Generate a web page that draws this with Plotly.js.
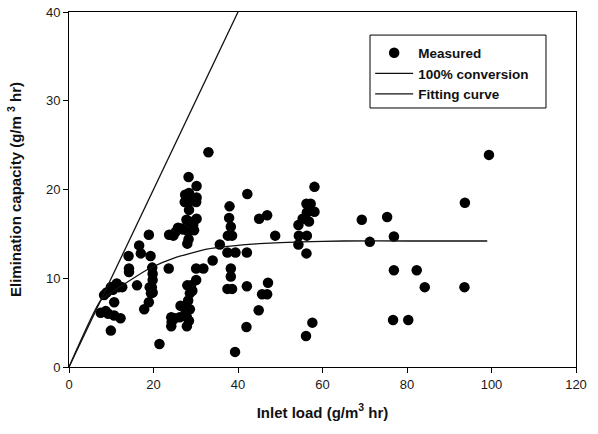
<!DOCTYPE html>
<html>
<head>
<meta charset="utf-8">
<script src="https://cdn.plot.ly/plotly-3.0.1.min.js"></script>
<style>html,body{margin:0;padding:0;background:#fff;}#chart{width:598px;height:434px;}</style>
</head>
<body>
<div id="chart"></div>
<script>
// Measured points: inlet load (x) and elimination capacity (y)
const measuredX = [
  7.5, 8.7, 9.3, 10.7, 12.2, 9.9, 10.7, 8.3, 8.9, 9.9, 11.0, 11.8, 12.6, 10.4, 11.3,
  14.1, 14.2, 14.2, 16.1, 16.6, 17.0, 17.8, 18.9, 19.3, 19.7, 19.8, 19.8, 19.1, 19.6, 19.4, 19.8, 18.9, 21.4,
  23.6, 23.7, 24.7, 24.2, 24.3, 24.2, 25.0, 25.2, 25.8, 26.2, 26.4, 26.6, 27.0, 27.4, 27.6, 27.6, 27.9, 27.9,
  28.2, 28.6, 28.0, 28.9, 28.0, 28.3, 28.2, 29.6, 27.8, 28.5, 28.4, 28.6, 27.5, 28.4, 28.3, 30.2, 30.2, 30.1,
  30.2, 29.4, 30.1, 31.8, 30.1, 29.2, 28.6, 28.4,
  33.0, 34.0, 35.7, 38.0, 37.9, 38.3, 37.6, 38.6, 37.5, 39.4, 38.3, 38.3, 37.5, 38.6, 39.3,
  42.2, 42.1, 42.1, 42.0, 45.0, 46.9, 44.9, 45.7, 46.9, 47.1, 48.8,
  54.3, 55.3, 56.2, 57.2, 56.8, 56.3, 58.1, 58.1, 54.4, 56.3, 54.3, 56.2, 57.6, 56.1,
  69.3, 75.3, 71.2, 76.9, 76.9, 82.3, 84.2, 93.6, 93.7, 99.4, 76.7, 80.3
];
const measuredY = [
  6.1, 6.3, 6.0, 5.8, 5.5, 4.1, 7.3, 8.1, 8.4, 9.0, 9.2, 9.0, 9.0, 8.7, 9.4,
  12.5, 11.1, 10.7, 9.2, 13.7, 12.8, 6.5, 14.9, 12.5, 11.2, 10.5, 9.8, 9.0, 9.0, 8.3, 8.4, 7.3, 2.6,
  11.1, 14.9, 14.8, 5.6, 5.1, 4.6, 5.5, 15.2, 15.7, 5.6, 6.9, 15.6, 15.5, 18.6, 6.9, 6.2, 5.6, 4.6,
  7.5, 8.3, 9.2, 9.2, 13.9, 14.4, 15.3, 15.4, 16.6, 16.4, 17.7, 18.7, 19.4, 19.6, 21.4, 20.4, 19.1, 18.6,
  16.7, 16.0, 11.1, 11.1, 9.8, 8.6, 6.5, 5.2,
  24.2, 12.0, 13.8, 18.1, 16.8, 15.8, 14.8, 14.8, 12.9, 12.9, 11.1, 10.2, 8.8, 8.8, 1.7,
  19.5, 12.9, 9.1, 4.5, 16.7, 17.1, 6.4, 8.2, 8.2, 9.5, 14.8,
  16.0, 16.7, 18.4, 18.4, 16.4, 17.4, 17.5, 20.3, 14.8, 14.8, 13.8, 12.8, 5.0, 3.5,
  16.6, 16.9, 14.1, 14.7, 10.9, 10.9, 9.0, 9.0, 18.5, 23.9, 5.3, 5.3
];
// 100% conversion line (EC = inlet load)
const conversionX = [0, 40];
const conversionY = [0, 40];
// Fitting curve
const fitX = [0, 7.5, 10, 13.6, 19, 25, 33, 41, 45, 55, 65, 80, 99];
const fitY = [0, 7.5, 8.4, 9.5, 11.1, 12.3, 13.3, 13.75, 13.9, 14.1, 14.2, 14.2, 14.2];

const xTicks = [0, 20, 40, 60, 80, 100, 120];
const yTicks = [0, 10, 20, 30, 40];

const traces = [
  {x: measuredX, y: measuredY, type: 'scatter', mode: 'markers', name: 'Measured',
   marker: {color: '#000', size: 10.5, line: {width: 0}}},
  {x: conversionX, y: conversionY, type: 'scatter', mode: 'lines', name: '100% conversion',
   line: {color: '#111', width: 1.3}},
  {x: fitX, y: fitY, type: 'scatter', mode: 'lines', name: 'Fitting curve',
   line: {color: '#111', width: 1.3, shape: 'spline', smoothing: 0.6}}
];

const axisCommon = {
  showgrid: false, zeroline: false, showline: true, linecolor: '#000', linewidth: 1,
  mirror: true, ticks: 'outside', ticklen: 5, tickcolor: '#000', tickwidth: 1,
  tickfont: {family: 'Liberation Sans, Arial, sans-serif', size: 13, color: '#1a1a1a'}
};

const layout = {
  width: 598, height: 434,
  margin: {l: 69, r: 22, t: 12, b: 67},
  paper_bgcolor: '#fff', plot_bgcolor: '#fff',
  showlegend: true,
  xaxis: Object.assign({}, axisCommon, {
    range: [0, 120], tickvals: xTicks, ticktext: xTicks.map(String),
    title: {text: 'Inlet load (g/m<sup>3</sup> hr)', standoff: 16,
      font: {family: 'Liberation Sans, Arial, sans-serif', size: 15, color: '#111', weight: 'bold'}}
  }),
  yaxis: Object.assign({}, axisCommon, {
    range: [0, 40], tickvals: yTicks, ticktext: yTicks.map(String),
    title: {text: 'Elimination capacity (g/m <sup>3</sup> hr)', standoff: 20,
      font: {family: 'Liberation Sans, Arial, sans-serif', size: 15, color: '#111', weight: 'bold'}}
  }),
  shapes: [{
    type: 'rect', xref: 'paper', yref: 'paper',
    x0: 0.5937, x1: 0.9408, y0: 0.7296, y1: 0.935,
    line: {color: '#000', width: 1}, fillcolor: '#fff', layer: 'above'
  }],
  legend: {
    x: 0.594, y: 0.928, xanchor: 'left', yanchor: 'top',
    bgcolor: 'rgba(0,0,0,0)', borderwidth: 0,
    font: {family: 'Liberation Sans, Arial, sans-serif', size: 13.5, color: '#111', weight: 'bold'},
    itemwidth: 38,
    tracegroupgap: 0
  }
};

Plotly.newPlot('chart', traces, layout, {displayModeBar: false, staticPlot: true});
</script>
</body>
</html>
